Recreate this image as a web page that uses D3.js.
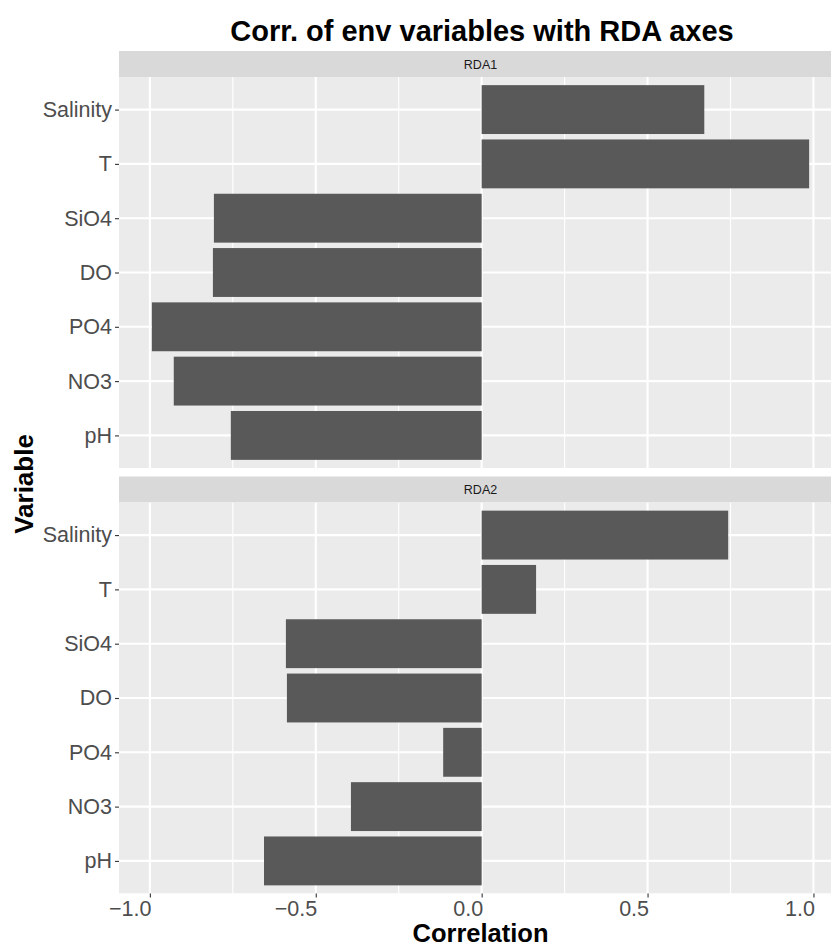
<!DOCTYPE html>
<html>
<head>
<meta charset="utf-8">
<script src="https://cdn.jsdelivr.net/npm/d3@7"></script>
<style>
  body { margin: 0; background: #fff; }
  text { font-family: "Liberation Sans", Arial, Helvetica, sans-serif; }
</style>
</head>
<body>
<svg id="chart" width="831" height="947"></svg>
<script>
// Variables, top to bottom within each facet
const variables = ["Salinity", "T", "SiO4", "DO", "PO4", "NO3", "pH"];
// Facet names
const axesNames = ["RDA1", "RDA2"];
// Correlation of each variable with RDA1 and RDA2
const rda1 = [0.671, 0.987, -0.807, -0.810, -0.994, -0.928, -0.756];
const rda2 = [0.743, 0.164, -0.590, -0.587, -0.116, -0.394, -0.656];
// x-axis ticks
const xTicks = [-1.0, -0.5, 0.0, 0.5, 1.0];
const xMinorTicks = [-0.75, -0.25, 0.25, 0.75];

const seriesByAxis = [rda1, rda2];

const svg = d3.select("#chart");

const panelLeft = 119, panelRight = 842;
const stripH = 26;
const panelH = 391;
const facetTops = [51, 476.5];

// x scale with 5% expansion on each side of the data range
const allVals = rda1.concat(rda2);
const lo = d3.min(allVals), hi = d3.max(allVals);
const pad = (hi - lo) * 0.05;
const x = d3.scaleLinear().domain([lo - pad, hi + pad]).range([panelLeft, panelRight]);

const fmt = d3.format(".1f");

const defs = svg.append("defs");

axesNames.forEach((name, fi) => {
  const stripTop = facetTops[fi];
  const pTop = stripTop + stripH;
  const pBot = pTop + panelH;
  const vals = seriesByAxis[fi];

  const y = d3.scalePoint().domain(variables).range([pTop, pBot]).padding(0.6);
  const barH = y.step() * 0.9;

  defs.append("clipPath").attr("id", "clip" + fi)
    .append("rect").attr("x", panelLeft).attr("y", pTop)
    .attr("width", panelRight - panelLeft).attr("height", panelH);

  // facet strip
  svg.append("rect").attr("x", panelLeft).attr("y", stripTop)
    .attr("width", panelRight - panelLeft).attr("height", stripH)
    .attr("fill", "#D9D9D9");
  svg.append("text").attr("x", (panelLeft + panelRight) / 2)
    .attr("y", stripTop + stripH / 2).attr("dy", "0.36em")
    .attr("text-anchor", "middle").attr("font-size", 12.5)
    .attr("fill", "#1A1A1A").text(name);

  const g = svg.append("g").attr("clip-path", `url(#clip${fi})`);
  g.append("rect").attr("x", panelLeft).attr("y", pTop)
    .attr("width", panelRight - panelLeft).attr("height", panelH)
    .attr("fill", "#EBEBEB");

  // minor vertical grid
  g.selectAll(".minor").data(xMinorTicks).enter().append("line")
    .attr("x1", d => x(d)).attr("x2", d => x(d))
    .attr("y1", pTop).attr("y2", pBot)
    .attr("stroke", "#fff").attr("stroke-width", 1.1);
  // major vertical grid
  g.selectAll(".major").data(xTicks).enter().append("line")
    .attr("x1", d => x(d)).attr("x2", d => x(d))
    .attr("y1", pTop).attr("y2", pBot)
    .attr("stroke", "#fff").attr("stroke-width", 2.1);
  // horizontal grid
  g.selectAll(".hgrid").data(variables).enter().append("line")
    .attr("x1", panelLeft).attr("x2", panelRight)
    .attr("y1", d => y(d)).attr("y2", d => y(d))
    .attr("stroke", "#fff").attr("stroke-width", 2.1);

  // bars
  g.selectAll(".bar").data(variables.map((v, i) => ({ v, val: vals[i] })))
    .enter().append("rect")
    .attr("x", d => x(Math.min(0, d.val)))
    .attr("width", d => Math.abs(x(d.val) - x(0)))
    .attr("y", d => y(d.v) - barH / 2)
    .attr("height", barH)
    .attr("fill", "#595959");

  // y axis
  const yAxis = d3.axisLeft(y).tickSize(4).tickPadding(3);
  const ya = svg.append("g").attr("transform", `translate(${panelLeft},0)`).call(yAxis);
  ya.select(".domain").remove();
  ya.selectAll(".tick line").attr("stroke", "#333333").attr("stroke-width", 1.1);
  ya.selectAll(".tick text").attr("fill", "#4D4D4D").attr("font-size", 21.5)
    .attr("font-family", "Liberation Sans, Arial, sans-serif");

  // x axis on the bottom facet only; labels end at their tick
  if (fi === axesNames.length - 1) {
    const xAxis = d3.axisBottom(x).tickValues(xTicks).tickFormat(fmt).tickSize(4).tickPadding(3);
    const xa = svg.append("g").attr("transform", `translate(0,${pBot})`).call(xAxis);
    xa.select(".domain").remove();
    xa.selectAll(".tick line").attr("stroke", "#333333").attr("stroke-width", 1.1);
    xa.selectAll(".tick text").attr("fill", "#4D4D4D").attr("font-size", 21.5)
      .attr("text-anchor", "end").attr("x", 1)
      .attr("font-family", "Liberation Sans, Arial, sans-serif");
  }
});

// titles
svg.append("text").attr("x", 482).attr("y", 41).attr("text-anchor", "middle")
  .attr("font-size", 29).attr("font-weight", "bold").attr("fill", "#000")
  .text("Corr. of env variables with RDA axes");

svg.append("text").attr("x", 480.5).attr("y", 942)
  .attr("text-anchor", "middle").attr("font-size", 25.5).attr("font-weight", "bold")
  .attr("fill", "#000").text("Correlation");

svg.append("text").attr("transform", "translate(33,484) rotate(-90)")
  .attr("text-anchor", "middle").attr("font-size", 26).attr("font-weight", "bold")
  .attr("fill", "#000").text("Variable");
</script>
</body>
</html>
